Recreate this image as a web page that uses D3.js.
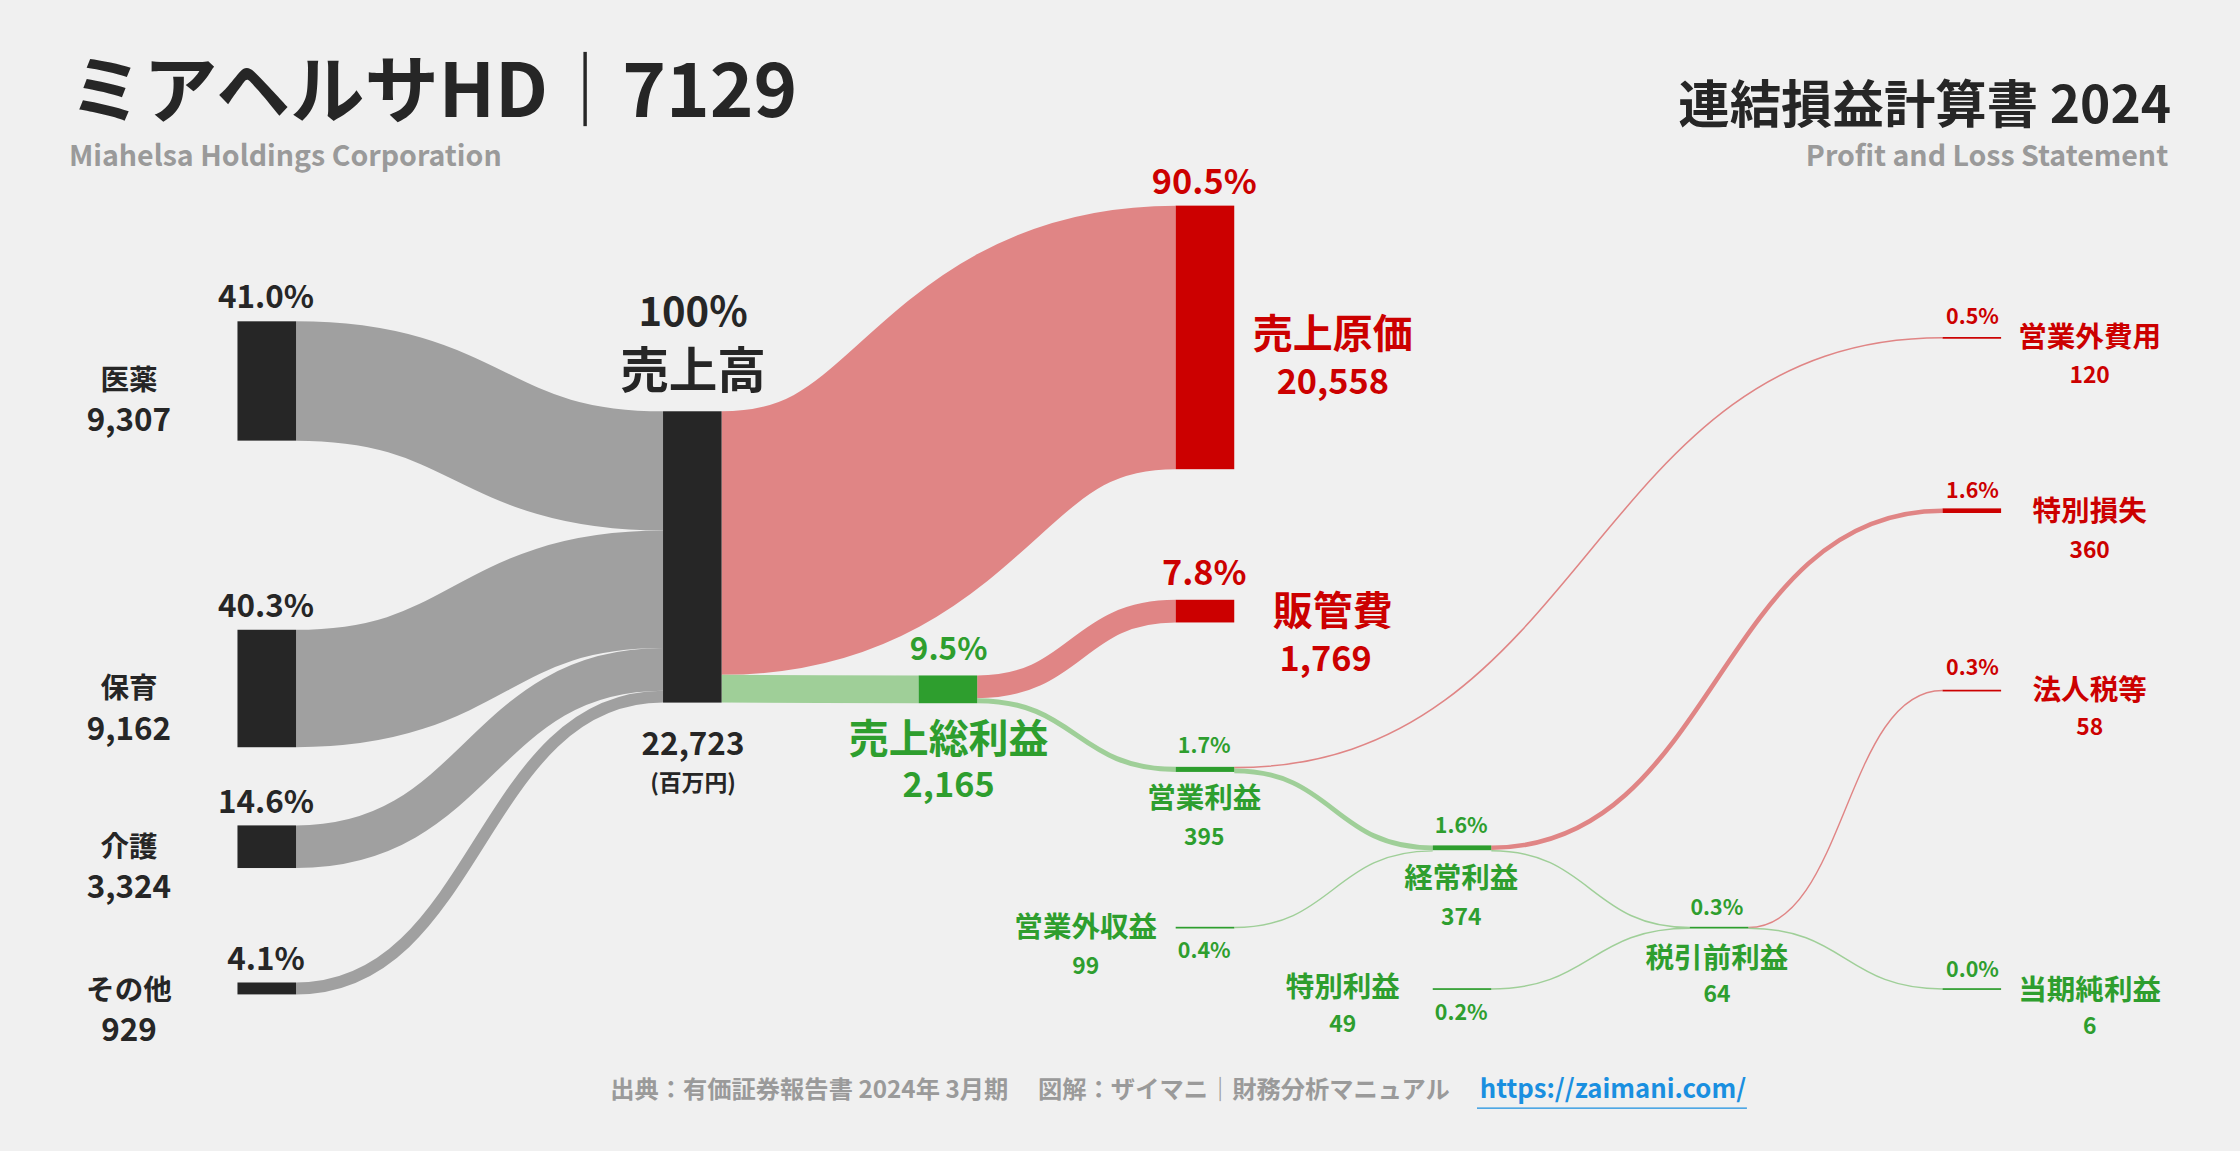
<!DOCTYPE html>
<html><head><meta charset="utf-8">
<script src="https://cdn.jsdelivr.net/npm/d3@7"></script>
<style>
body{margin:0;background:#f0f0f0;}
svg text{font-family:"Noto Sans CJK JP","Noto Sans",sans-serif;font-weight:700;}
</style></head><body>
<svg id="chart"></svg>
<script>
// values in 百万円
const nodeIds    = ["med","care","nurse","other","rev","cogs","sga","gross","op","nonopExp","ord","nonopInc","extLoss","extInc","pretax","tax","net"];
const nodeValues = [9307, 9162, 3324, 929, 22723, 20558, 1769, 2165, 395, 120, 374, 99, 360, 49, 64, 58, 6];
const nodeKinds  = ["in","in","in","in","rev","cost","cost","profit","profit","cost","profit","profit","cost","profit","profit","cost","profit"];
// layout: column x and top y (display units)
const nodeX = [166,166,166,166,464,823,823,643,823,1360,1003,823,1360,1003,1183,1360,1360];
const nodeY = [225,441,578,688,288,144,420,473,537,236,592,649,356,692,649,483,692];

const linkSources = ["med","care","nurse","other","rev","rev","gross","gross","op","op","nonopInc","ord","ord","extInc","pretax","pretax"];
const linkTargets = ["rev","rev","rev","rev","cogs","gross","sga","op","nonopExp","ord","ord","extLoss","pretax","pretax","tax","net"];
const linkValues  = [9307,9162,3324,929,20558,2165,1769,395,120,374,99,360,63,49,58,6];

const W = 1568, H = 806, NW = 41;
const C = {bg:"#f0f0f0", dark:"#262626", gray:"#a0a0a0", red:"#cc0000", redL:"#e08585", green:"#2e9e2e", greenL:"#9fcf98", sub:"#9a9a9a"};

const svg = d3.select("#chart").attr("width", 2240).attr("height", 1151).attr("viewBox", `0 0 ${W} ${H}`);
svg.append("rect").attr("width", W).attr("height", H).attr("fill", C.bg);

const h = d3.scaleLinear().domain([0, 22723]).range([0, 204]);
const nodes = {};
nodeIds.forEach((id, i) => {
  nodes[id] = {id, x: nodeX[i], y: nodeY[i], v: nodeValues[i], kind: nodeKinds[i], h: Math.max(1.2, h(nodeValues[i])), outY: 0, inY: 0};
});

const link = d3.linkHorizontal().x(d => d[0]).y(d => d[1]);
const g = svg.append("g");
linkSources.forEach((s, i) => {
  const a = nodes[s], b = nodes[linkTargets[i]];
  const w = Math.max(1, h(linkValues[i]));
  const y0 = a.y + a.outY + w / 2, y1 = b.y + b.inY + w / 2;
  a.outY += h(linkValues[i]); b.inY += h(linkValues[i]);
  const col = b.kind === "rev" ? C.gray : (b.kind === "cost" ? C.redL : C.greenL);
  g.append("path")
    .attr("d", link({source: [a.x + NW, y0], target: [b.x, y1]}))
    .attr("fill", "none").attr("stroke", col).attr("stroke-width", w);
});

Object.values(nodes).forEach(n => {
  const col = n.kind === "cost" ? C.red : (n.kind === "profit" ? C.green : C.dark);
  svg.append("rect").attr("x", n.x).attr("y", n.y).attr("width", NW).attr("height", n.h).attr("fill", col);
});

function t(x, y, s, size, fill, anchor) {
  svg.append("text").attr("x", x).attr("y", y).attr("font-size", size)
    .attr("fill", fill || C.dark).attr("text-anchor", anchor || "middle").text(s);
}

// headers
t(48, 82, "ミアヘルサHD｜7129", 52, C.dark, "start");
t(48, 116, "Miahelsa Holdings Corporation", 20, C.sub, "start");
t(1520, 86, "連結損益計算書 2024", 36, C.dark, "end");
t(1518, 116, "Profit and Loss Statement", 20, C.sub, "end");

// segments
t(186, 216, "41.0%", 22); t(90, 273, "医薬", 20); t(90, 302, "9,307", 22);
t(186, 432, "40.3%", 22); t(90, 489, "保育", 20); t(90, 518, "9,162", 22);
t(186, 569, "14.6%", 22); t(90, 600, "介護", 20); t(90, 629, "3,324", 22);
t(186, 679, "4.1%", 22); t(90, 700, "その他", 20); t(90, 729, "929", 22);

t(485, 228, "100%", 28); t(485, 272, "売上高", 34);
t(485, 529, "22,723", 22); t(485, 554, "(百万円)", 16);

t(843, 136, "90.5%", 24, C.red); t(933, 244, "売上原価", 28, C.red); t(933, 276, "20,558", 24, C.red);
t(843, 410, "7.8%", 24, C.red); t(933, 438, "販管費", 28, C.red); t(928, 470, "1,769", 24, C.red);
t(664, 462, "9.5%", 22, C.green); t(664, 527, "売上総利益", 28, C.green); t(664, 558, "2,165", 24, C.green);

t(843, 527, "1.7%", 15, C.green); t(843, 566, "営業利益", 20, C.green); t(843, 592, "395", 16, C.green);
t(1381, 227, "0.5%", 15, C.red); t(1463, 243, "営業外費用", 20, C.red); t(1463, 268, "120", 16, C.red);
t(1381, 349, "1.6%", 15, C.red); t(1463, 365, "特別損失", 20, C.red); t(1463, 391, "360", 16, C.red);
t(1381, 473, "0.3%", 15, C.red); t(1463, 490, "法人税等", 20, C.red); t(1463, 515, "58", 16, C.red);
t(1381, 684, "0.0%", 15, C.green); t(1463, 700, "当期純利益", 20, C.green); t(1463, 724, "6", 16, C.green);
t(1023, 583, "1.6%", 15, C.green); t(1023, 622, "経常利益", 20, C.green); t(1023, 648, "374", 16, C.green);
t(760, 656, "営業外収益", 20, C.green); t(760, 682, "99", 16, C.green); t(843, 671, "0.4%", 15, C.green);
t(940, 698, "特別利益", 20, C.green); t(940, 723, "49", 16, C.green); t(1023, 714, "0.2%", 15, C.green);
t(1202, 641, "0.3%", 15, C.green); t(1202, 678, "税引前利益", 20, C.green); t(1202, 702, "64", 16, C.green);

// footer
t(1015, 769, "出典：有価証券報告書 2024年 3月期　 図解：ザイマニ｜財務分析マニュアル", 17, C.sub, "end");
t(1036, 769, "https://zaimani.com/", 18, "#1a8fe0", "start");
svg.append("line").attr("x1", 1034).attr("x2", 1223).attr("y1", 776).attr("y2", 776).attr("stroke", "#1a8fe0").attr("stroke-width", 1);
</script></body></html>
